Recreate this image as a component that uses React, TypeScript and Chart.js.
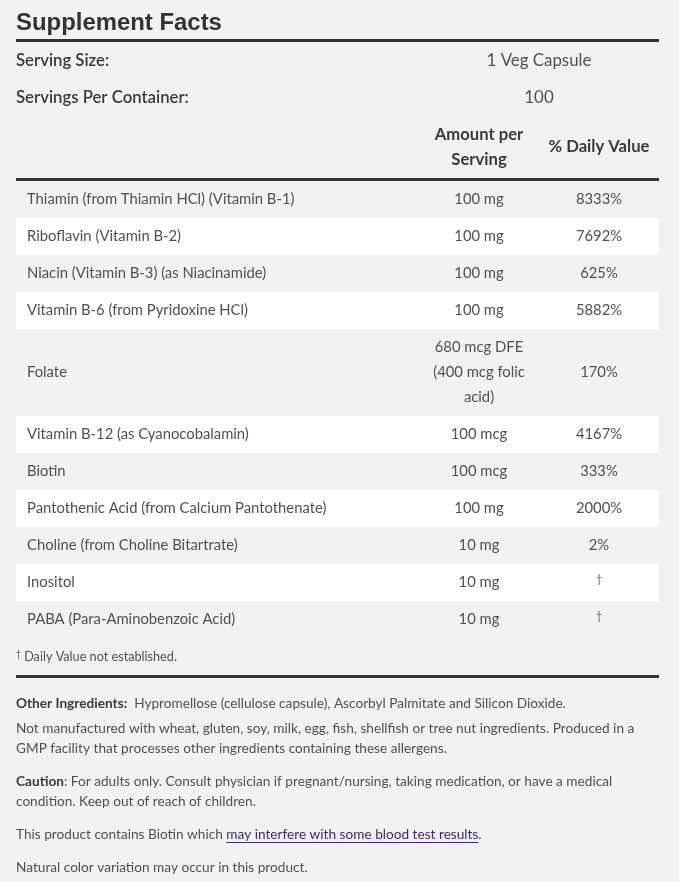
import React, { useEffect, useRef } from "react";
import { Chart, registerables } from "chart.js";

Chart.register(...registerables);

// ---------- data ----------
const title = "Supplement Facts";
const servingLabels = ["Serving Size:", "Servings Per Container:"];
const servingValues = ["1 Veg Capsule", "100"];
const amountHeader = ["Amount per", "Serving"];
const dvHeader = "% Daily Value";
const nutrients = [
  "Thiamin (from Thiamin HCl) (Vitamin B-1)",
  "Riboflavin (Vitamin B-2)",
  "Niacin (Vitamin B-3) (as Niacinamide)",
  "Vitamin B-6 (from Pyridoxine HCl)",
  "Folate",
  "Vitamin B-12 (as Cyanocobalamin)",
  "Biotin",
  "Pantothenic Acid (from Calcium Pantothenate)",
  "Choline (from Choline Bitartrate)",
  "Inositol",
  "PABA (Para-Aminobenzoic Acid)",
];
const amounts = [
  ["100 mg"],
  ["100 mg"],
  ["100 mg"],
  ["100 mg"],
  ["680 mcg DFE", "(400 mcg folic", "acid)"],
  ["100 mcg"],
  ["100 mcg"],
  ["100 mg"],
  ["10 mg"],
  ["10 mg"],
  ["10 mg"],
];
const dailyValues = ["8333%", "7692%", "625%", "5882%", "170%", "4167%", "333%", "2000%", "2%", "†", "†"];
const footnoteMark = "†";
const footnote = "Daily Value not established.";
const otherLabel = "Other Ingredients:";
const otherText = "Hypromellose (cellulose capsule), Ascorbyl Palmitate and Silicon Dioxide.";
const allergenLines = [
  "Not manufactured with wheat, gluten, soy, milk, egg, fish, shellfish or tree nut ingredients. Produced in a",
  "GMP facility that processes other ingredients containing these allergens.",
];
const cautionLabel = "Caution";
const cautionLines = [
  ": For adults only. Consult physician if pregnant/nursing, taking medication, or have a medical",
  "condition. Keep out of reach of children.",
];
const biotinText = "This product contains Biotin which ";
const biotinLink = "may interfere with some blood test results";
const biotinEnd = ".";
const naturalText = "Natural color variation may occur in this product.";

// ---------- layout ----------
const W = 679;
const H = 882;
const LEFT = 16;
const RIGHT = 659;
const CELL_PAD = 11;
const AMOUNT_X = 479;
const DV_X = 599;
const SERVING_X = 539;
const ROWS_TOP = 181;
const ROW_H = 37;
const LINE_H = 25;
const RULE = 3;
const BODY = "Lato, 'Open Sans', sans-serif";
const TITLE_FONT = "'Liberation Sans', Arial, sans-serif";
const C_BG = "#f2f2f2";
const C_ROW = "#ffffff";
const C_RULE = "#333333";
const C_HEAD = "#3a3a3a";
const C_TEXT = "#505050";
const C_LINK = "#3d2b6e";

function fit(ctx: CanvasRenderingContext2D, text: string, weight: string, family: string, width: number) {
  ctx.font = `${weight} 100px ${family}`;
  return (100 * width) / ctx.measureText(text).width;
}

const tablePlugin = {
  id: "supplementFacts",
  beforeDraw(chart: any) {
    const ctx: CanvasRenderingContext2D = chart.ctx;
    const xs = chart.scales.x;
    const ys = chart.scales.y;
    const X = (v: number) => xs.getPixelForValue(v);
    const Y = (v: number) => ys.getPixelForValue(v);

    const sTitle = fit(ctx, title, "bold", TITLE_FONT, 206);
    const sHead = fit(ctx, servingLabels[1], "600", BODY, 173);
    const sHeadVal = fit(ctx, servingValues[0], "400", BODY, 105);
    const sCol = fit(ctx, dvHeader, "bold", BODY, 101);
    const sRow = fit(ctx, nutrients[0], "400", BODY, 267.6);
    const sFoot = fit(ctx, footnote, "400", BODY, 153);
    const sNote = fit(ctx, allergenLines[0], "400", BODY, 619);

    const text = (
      s: string,
      x: number,
      y: number,
      size: number,
      weight: string,
      color: string,
      align: CanvasTextAlign = "left",
      family = BODY
    ) => {
      ctx.font = `${weight} ${size}px ${family}`;
      ctx.fillStyle = color;
      ctx.textAlign = align;
      ctx.textBaseline = "middle";
      ctx.fillText(s, X(x), Y(y));
      return ctx.measureText(s).width;
    };
    const rule = (y: number) => {
      ctx.fillStyle = C_RULE;
      ctx.fillRect(X(LEFT), Y(y), X(RIGHT) - X(LEFT), Y(y + RULE) - Y(y));
    };

    ctx.save();
    ctx.fillStyle = C_BG;
    ctx.fillRect(0, 0, chart.width, chart.height);

    // title and serving info
    text(title, LEFT, 23, sTitle, "bold", "#333333", "left", TITLE_FONT);
    rule(39);
    text(servingLabels[0], LEFT, 61, sHead, "600", C_HEAD);
    text(servingLabels[1], LEFT, 98, sHead, "600", C_HEAD);
    text(servingValues[0], SERVING_X, 61, sHeadVal, "400", C_TEXT, "center");
    text(servingValues[1], SERVING_X, 98, sHeadVal, "400", C_TEXT, "center");
    text(amountHeader[0], AMOUNT_X, 135, sCol, "bold", C_HEAD, "center");
    text(amountHeader[1], AMOUNT_X, 160, sCol, "bold", C_HEAD, "center");
    text(dvHeader, DV_X, 147, sCol, "bold", C_HEAD, "center");
    rule(178);

    // rows
    let top = ROWS_TOP;
    nutrients.forEach((name, i) => {
      const lines = amounts[i];
      const h = ROW_H + (lines.length - 1) * LINE_H;
      if (i % 2 === 1) {
        ctx.fillStyle = C_ROW;
        ctx.fillRect(X(LEFT), Y(top), X(RIGHT) - X(LEFT), Y(top + h) - Y(top));
      }
      const mid = top + h / 2;
      text(name, LEFT + CELL_PAD, mid, sRow, "400", C_TEXT);
      lines.forEach((ln, k) => {
        text(ln, AMOUNT_X, mid + (k - (lines.length - 1) / 2) * LINE_H, sRow, "400", C_TEXT, "center");
      });
      const dv = dailyValues[i];
      if (dv === "†") text(dv, DV_X, mid - 3, sRow * 0.72, "400", C_TEXT, "center");
      else text(dv, DV_X, mid, sRow, "400", C_TEXT, "center");
      top += h;
    });

    // footnote
    const dw = text(footnoteMark, LEFT, 654, sFoot * 0.7, "400", C_TEXT);
    text(footnote, LEFT + dw + 3, 657, sFoot, "400", C_TEXT);
    rule(675);

    // notes
    const lw = text(otherLabel, LEFT, 704, sNote, "bold", C_HEAD);
    ctx.font = `400 ${sNote}px ${BODY}`;
    const gap = ctx.measureText("  ").width;
    text(otherText, LEFT + lw + gap, 704, sNote, "400", C_TEXT);
    text(allergenLines[0], LEFT, 729, sNote, "400", C_TEXT);
    text(allergenLines[1], LEFT, 749, sNote, "400", C_TEXT);
    const cw = text(cautionLabel, LEFT, 782, sNote, "bold", C_HEAD);
    text(cautionLines[0], LEFT + cw, 782, sNote, "400", C_TEXT);
    text(cautionLines[1], LEFT, 802, sNote, "400", C_TEXT);
    const bw = text(biotinText, LEFT, 835, sNote, "400", C_TEXT);
    const kw = text(biotinLink, LEFT + bw, 835, sNote, "400", C_LINK);
    ctx.fillStyle = C_LINK;
    ctx.fillRect(X(LEFT + bw), Y(842), kw, 1);
    text(biotinEnd, LEFT + bw + kw, 835, sNote, "400", C_TEXT);
    text(naturalText, LEFT, 868, sNote, "400", C_TEXT);
    ctx.restore();
  },
};

export default function App() {
  const ref = useRef<HTMLCanvasElement | null>(null);
  useEffect(() => {
    if (!ref.current) return;
    const chart = new Chart(ref.current, {
      type: "scatter",
      data: { datasets: [{ data: [], showLine: false }] },
      options: {
        responsive: false,
        maintainAspectRatio: false,
        animation: false,
        events: [],
        layout: { padding: 0 },
        plugins: { legend: { display: false }, tooltip: { enabled: false }, title: { display: false } },
        scales: {
          x: { type: "linear", display: false, min: 0, max: W },
          y: { type: "linear", display: false, min: 0, max: H, reverse: true },
        },
      },
      plugins: [tablePlugin],
    });
    return () => chart.destroy();
  }, []);
  return (
    <div style={{ position: "absolute", left: 0, top: 0, width: W, height: H, overflow: "hidden" }}>
      <canvas ref={ref} width={W} height={H} style={{ display: "block", width: W, height: H }} />
    </div>
  );
}
